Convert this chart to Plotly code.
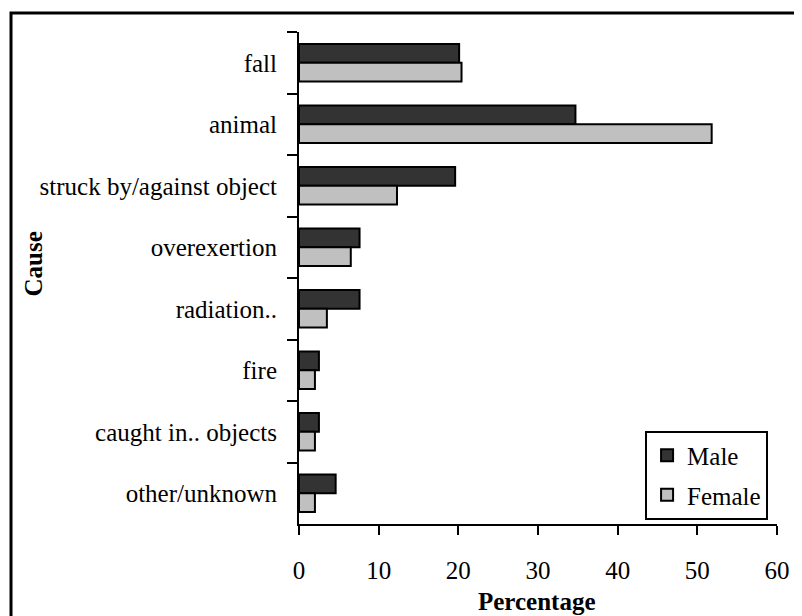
import plotly.graph_objects as go

causes = ["fall", "animal", "struck by/against object", "overexertion",
          "radiation..", "fire", "caught in.. objects", "other/unknown"]
male = [20.1, 34.7, 19.6, 7.6, 7.6, 2.5, 2.5, 4.6]
female = [20.4, 51.8, 12.3, 6.5, 3.5, 2.0, 2.0, 2.0]
x_ticks = [0, 10, 20, 30, 40, 50, 60]

FONT = "Liberation Serif"
FS = 25

fig = go.Figure()
fig.add_trace(go.Bar(y=causes, x=male, name="Male", orientation="h", legendgroup="m",
                     marker=dict(color="#333333", line=dict(color="black", width=2))))
fig.add_trace(go.Bar(y=causes, x=female, name="Female", orientation="h", legendgroup="f",
                     marker=dict(color="#C0C0C0", line=dict(color="black", width=2))))

fig.update_layout(
    template="none",
    width=794, height=608,
    margin=dict(l=291, r=25, t=24, b=92, autoexpand=False),
    paper_bgcolor="white", plot_bgcolor="white",
    barmode="group", bargap=0.39, bargroupgap=0,
    font=dict(family=FONT, size=FS, color="black"),
    showlegend=True,
    legend=dict(x=0.724, y=0.19, xanchor="left", yanchor="top",
                bgcolor="white", bordercolor="black", borderwidth=2,
                font=dict(family=FONT, size=FS, color="black"),
                itemwidth=30, tracegroupgap=4, traceorder="grouped"),
    xaxis=dict(range=[0, 60], tickvals=x_ticks, ticktext=[str(v) for v in x_ticks],
               showgrid=False, zeroline=False, showline=True, linecolor="black",
               linewidth=2, ticks="outside", ticklen=9, tickwidth=2, tickcolor="black",
               ticklabelstandoff=14, automargin=False, fixedrange=True,
               tickfont=dict(family=FONT, size=FS, color="black")),
    yaxis=dict(categoryorder="array", categoryarray=causes, autorange="reversed",
               showgrid=False, zeroline=False, showline=True, linecolor="black",
               linewidth=2, ticks="outside", ticklen=10, tickwidth=2, tickcolor="black",
               tickson="boundaries", ticklabelstandoff=15, automargin=False, fixedrange=True,
               tickfont=dict(family=FONT, size=FS, color="black")),
    annotations=[
        dict(text="<b>Percentage</b>", xref="paper", yref="paper", x=0.497, y=-0.157,
             xanchor="center", yanchor="middle", showarrow=False,
             font=dict(family=FONT, size=FS, color="black")),
        dict(text="<b>Cause</b>", xref="paper", yref="paper", x=-0.556, y=0.528,
             xanchor="center", yanchor="middle", showarrow=False, textangle=-90,
             font=dict(family=FONT, size=FS, color="black")),
    ],
    shapes=[
        dict(type="rect", xref="paper", yref="paper", x0=-0.6025, y0=-0.3, x1=1.2, y1=1.0386,
             line=dict(color="black", width=3), fillcolor="rgba(0,0,0,0)", layer="above"),
    ],
)

fig.write_html("out.html")
